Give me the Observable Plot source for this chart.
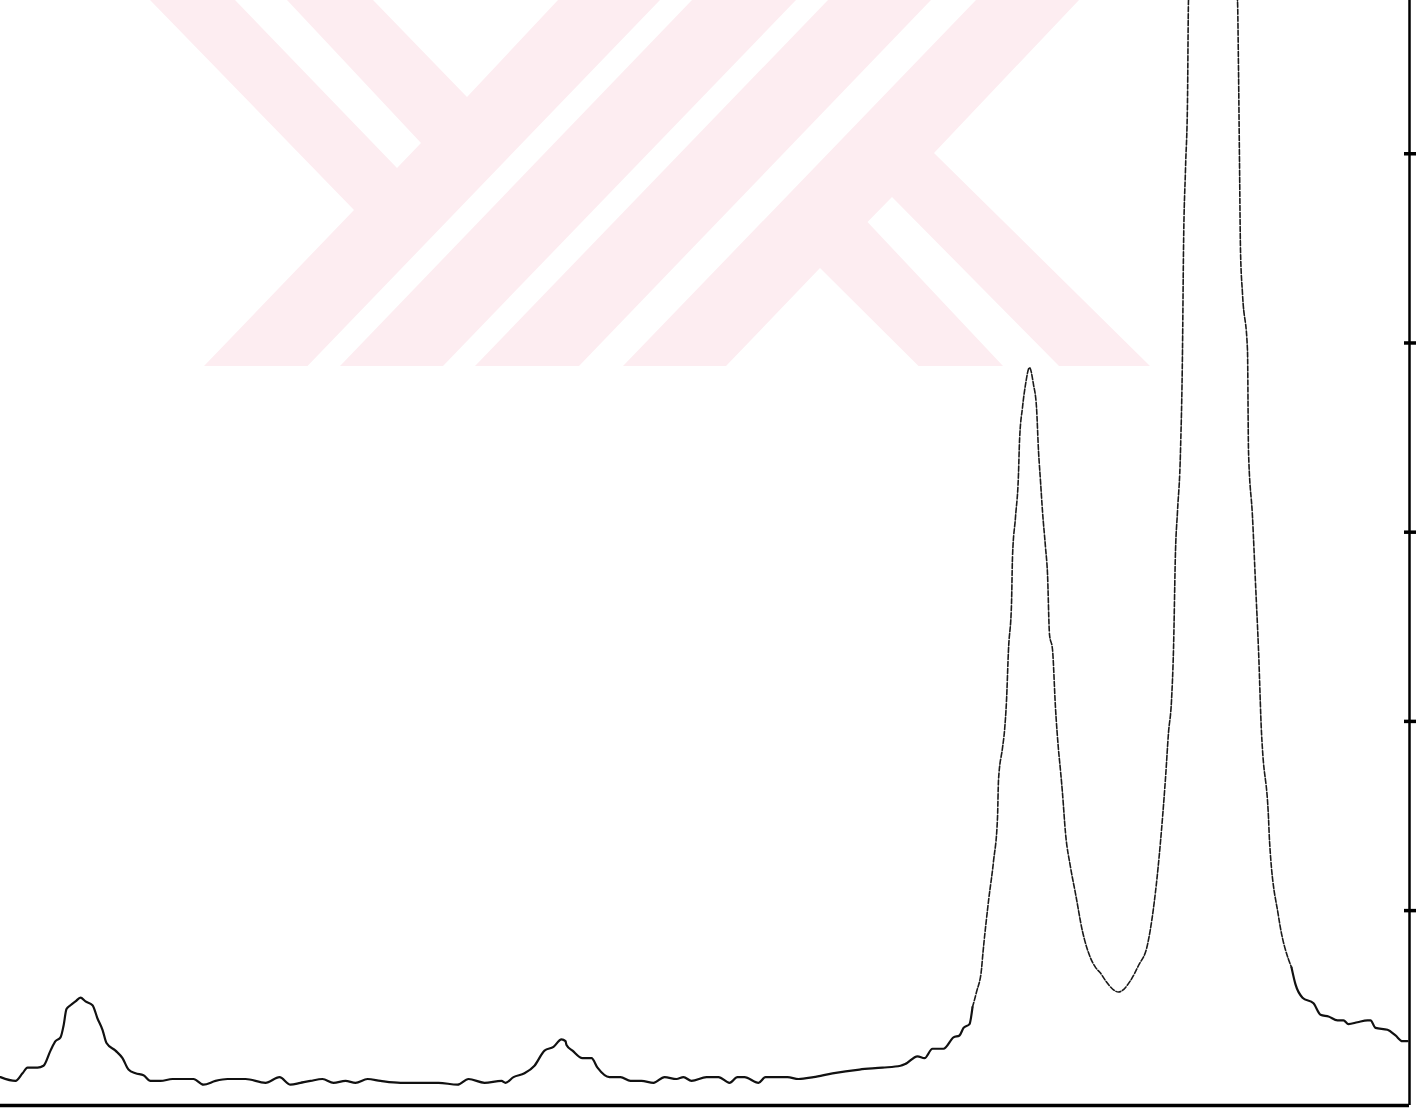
<!DOCTYPE html>
<html>
<head>
<meta charset="utf-8">
<script src="https://cdn.jsdelivr.net/npm/d3@7"></script>
<script src="https://cdn.jsdelivr.net/npm/@observablehq/plot@0.6"></script>
<style>
  html, body { margin: 0; padding: 0; background: #ffffff; }
  #wrap { position: relative; width: 1420px; height: 1109px; overflow: hidden; }
  #wm { position: absolute; left: 0; top: 0; }
  #chart { position: absolute; left: 0; top: 0; }
</style>
</head>
<body>
<div id="wrap">
  <svg id="wm" width="1420" height="1109" aria-hidden="true">
    <g fill="#fdedf1">
      <polygon points="150,0 235,0 397,168 421,143 287,0 373,0 467,97 558,0 660,0 307.5,366 204,366 354,210"/>
      <polygon points="692,0 796,0 443,366 340,366"/>
      <polygon points="828,0 931,0 579,366 475,366"/>
      <polygon points="976,0 1079,0 934,153 1150,366 1059,366 892,197 867.5,222 1003,366 918.5,366 820,268 726,366 623,366"/>
    </g>
  </svg>
  <div id="chart"></div>
</div>
<script>
// Channel positions (arbitrary instrument units) and intensity (in right-axis tick units)
const channel = [
  0, 15, 22, 27, 37, 43, 50, 55, 60, 63, 66, 70, 75, 80, 85, 92, 97, 102, 106, 115,
  122, 128, 135, 143, 150, 160, 172, 193, 203, 215, 227, 245, 265, 279, 290, 300, 310, 322, 333, 345,
  355, 367, 380, 400, 438, 457, 468, 484, 501, 505, 513, 524, 534, 544, 553, 561, 565, 566, 572, 582,
  591, 597, 609, 620, 630, 641, 653, 664, 676, 683, 691, 706, 718, 729, 737, 744, 758, 765, 787, 798,
  813, 832, 859, 882, 900, 905, 917, 924, 932, 943, 953, 959, 963, 969, 972, 976, 981, 982, 988, 993,
  997, 998, 1002, 1004, 1006, 1008, 1011, 1012, 1015, 1018, 1019, 1022, 1025, 1029, 1033, 1036, 1038, 1040, 1042, 1045,
  1047, 1049, 1052, 1055, 1058, 1060, 1062, 1065, 1070, 1075, 1082, 1090, 1095, 1100, 1105, 1118, 1130, 1138, 1147, 1158,
  1162, 1165, 1168, 1171, 1173, 1175, 1177, 1180, 1182, 1183, 1185, 1187, 1188, 1212, 1237, 1238, 1239, 1240, 1242, 1247,
  1248, 1252, 1255, 1258, 1261, 1262, 1268, 1269, 1278, 1291, 1295, 1302, 1313, 1320, 1328, 1337, 1343, 1348, 1357, 1367,
  1370, 1375, 1387, 1395, 1402, 1407
];
const intensity = [
  0.12, 0.10, 0.14, 0.17, 0.17, 0.18, 0.26, 0.31, 0.33, 0.39, 0.48, 0.50, 0.52, 0.54, 0.52, 0.50, 0.43, 0.37, 0.30, 0.26,
  0.22, 0.16, 0.14, 0.13, 0.10, 0.10, 0.11, 0.11, 0.08, 0.10, 0.11, 0.11, 0.09, 0.12, 0.08, 0.09, 0.10, 0.11, 0.09, 0.10,
  0.09, 0.11, 0.10, 0.09, 0.09, 0.08, 0.11, 0.09, 0.10, 0.09, 0.12, 0.14, 0.18, 0.26, 0.28, 0.32, 0.31, 0.29, 0.26, 0.22,
  0.22, 0.17, 0.12, 0.12, 0.10, 0.10, 0.09, 0.12, 0.11, 0.12, 0.10, 0.12, 0.12, 0.09, 0.12, 0.12, 0.09, 0.12, 0.12, 0.11,
  0.12, 0.14, 0.16, 0.17, 0.18, 0.19, 0.23, 0.22, 0.27, 0.27, 0.33, 0.34, 0.38, 0.40, 0.49, 0.57, 0.69, 0.75, 1.05, 1.26,
  1.49, 1.69, 1.86, 1.95, 2.11, 2.38, 2.62, 2.87, 3.08, 3.31, 3.48, 3.66, 3.78, 3.87, 3.78, 3.66, 3.43, 3.27, 3.11, 2.92,
  2.78, 2.46, 2.38, 2.07, 1.85, 1.74, 1.62, 1.41, 1.23, 1.09, 0.89, 0.75, 0.70, 0.67, 0.63, 0.57, 0.63, 0.71, 0.82, 1.25,
  1.49, 1.70, 1.94, 2.11, 2.38, 2.90, 3.11, 3.43, 3.96, 4.49, 4.92, 5.28, 5.81, 7.00, 5.81, 5.45, 4.96, 4.49, 4.26, 3.96,
  3.43, 3.08, 2.73, 2.38, 1.94, 1.85, 1.49, 1.37, 0.97, 0.70, 0.61, 0.54, 0.51, 0.45, 0.44, 0.42, 0.42, 0.40, 0.41, 0.42,
  0.42, 0.38, 0.37, 0.34, 0.31, 0.31
];
const yTicks = [1, 2, 3, 4, 5];
// range recorded with a slow (inked) pen vs. the fast, sparsely inked peak sweep
const fastStart = 972, fastEnd = 1291;

const xMin = 0, xMax = 1409, yMin = -0.03, yMax = 5.81;
const rows = channel.map((c, i) => ({x: c, y: intensity[i]}));

const chart = Plot.plot({
  width: 1420,
  height: 1109,
  marginTop: 0,
  marginBottom: 4,
  marginLeft: 0,
  marginRight: 11,
  style: {background: "transparent"},
  x: {domain: [xMin, xMax], axis: null},
  y: {domain: [yMin, yMax], axis: null},
  marks: [
    Plot.line(rows, {
      x: "x",
      y: d => (d.x <= fastStart || d.x >= fastEnd) ? d.y : NaN,
      stroke: "#111",
      strokeWidth: 2.2,
      curve: "monotone-x",
      clip: true
    }),
    Plot.line(rows, {
      x: "x",
      y: d => (d.x >= fastStart && d.x <= fastEnd) ? d.y : NaN,
      stroke: "#1a1a1a",
      strokeWidth: 1.6,
      strokeDasharray: "5,2",
      curve: "monotone-x",
      clip: true
    }),
    Plot.ruleY([yMin], {stroke: "#000", strokeWidth: 3.5}),
    Plot.ruleX([xMax], {stroke: "#000", strokeWidth: 2.5}),
    Plot.ruleY(yTicks, {x1: xMax - 5, x2: xMax + 7, stroke: "#000", strokeWidth: 3.5})
  ]
});
document.getElementById("chart").appendChild(chart);
</script>
</body>
</html>
